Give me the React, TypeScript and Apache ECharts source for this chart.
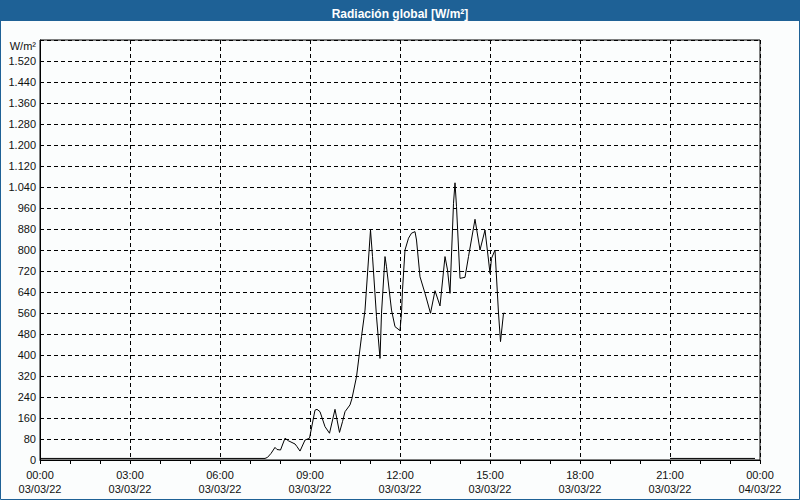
import React, { useEffect, useRef } from "react";
import * as echarts from "echarts";

const TITLE = "Radiación global [W/m²]";
const UNIT = "W/m²";

// Times of day (03/03/22) and global radiation values in W/m²
const dayTimes = [
  "00:00", "07:30", "07:35", "07:42", "07:50", "07:54", "08:01", "08:10", "08:17", "08:30",
  "08:34", "08:40", "08:50", "08:59", "09:10", "09:14", "09:20", "09:30", "09:39", "09:50",
  "09:59", "10:05", "10:10", "10:20", "10:24", "10:33", "10:43", "10:50", "11:01", "11:05",
  "11:13", "11:20", "11:23", "11:30", "11:33", "11:43", "11:50", "12:00", "12:03", "12:05",
  "12:10", "12:17", "12:23", "12:30", "12:33", "12:40", "12:50", "13:01", "13:10", "13:20",
  "13:30", "13:35", "13:40", "13:47", "13:50", "13:53", "14:00", "14:10", "14:17", "14:30",
  "14:40", "14:50", "14:57", "15:00", "15:03", "15:10", "15:17", "15:21", "15:27", "15:30",
];
const dayValues = [
  6, 6, 10, 25, 48, 40, 38, 83, 73, 61,
  51, 34, 76, 83, 190, 193, 184, 127, 102, 193,
  105, 146, 184, 210, 235, 317, 470, 571, 876, 775,
  546, 387, 559, 775, 736, 571, 508, 493, 559, 648,
  800, 845, 864, 870, 838, 698, 635, 559, 645, 587,
  775, 724, 635, 978, 1056, 965, 692, 696, 775, 917,
  800, 876, 762, 711, 768, 800, 559, 451, 559, 559,
];
const nightTimes = ["21:00", "23:50"];
const nightValues = [6, 6];

const xTickHours = [0, 3, 6, 9, 12, 15, 18, 21, 24];
const xDateLabels = ["03/03/22", "03/03/22", "03/03/22", "03/03/22", "03/03/22", "03/03/22", "03/03/22", "03/03/22", "04/03/22"];

const toHours = (t: string) => {
  const [h, m] = t.split(":").map(Number);
  return h + m / 60;
};

const fmtThousands = (v: number) =>
  String(v).replace(/\B(?=(\d{3})+(?!\d))/g, ".");

const pad = (n: number) => (n < 10 ? "0" + n : String(n));

export default function App() {
  const ref = useRef<HTMLDivElement>(null);

  useEffect(() => {
    if (!ref.current) return;
    const chart = echarts.init(ref.current, undefined, { renderer: "svg" });

    const data: any[] = [];
    dayTimes.forEach((t, i) => data.push([toHours(t), dayValues[i]]));
    data.push([16, "-"]);
    nightTimes.forEach((t, i) => data.push([toHours(t), nightValues[i]]));

    const font = "Liberation Sans";
    const blue = "#1e6196";

    chart.setOption({
      animation: false,
      backgroundColor: "#fbfdfd",
      textStyle: { fontFamily: font },
      graphic: [
        {
          type: "rect",
          shape: { x: 0, y: 0, width: 800, height: 21 },
          style: { fill: blue },
          z: 0,
        },
        {
          type: "rect",
          shape: { x: 0.5, y: 0.5, width: 799, height: 499 },
          style: { fill: "none", stroke: blue, lineWidth: 1 },
          z: 0,
        },
      ],
      title: {
        text: TITLE,
        left: "center",
        top: 3,
        textStyle: { color: "#ffffff", fontFamily: font, fontWeight: "bold", fontSize: 12 },
        z: 10,
      },
      grid: {
        left: 40,
        top: 40,
        width: 720,
        height: 420,
        show: true,
        borderColor: "#000",
        borderWidth: 1,
        backgroundColor: "transparent",
      },
      xAxis: {
        type: "value",
        min: 0,
        max: 24,
        interval: 3,
        axisLine: { show: true, lineStyle: { color: "#000", width: 1 } },
        axisTick: { show: true, length: 4, lineStyle: { color: "#000" } },
        minorTick: { show: true, splitNumber: 3, length: 4, lineStyle: { color: "#000" } },
        splitLine: { show: true, lineStyle: { color: "#000", type: [4, 3], width: 1 } },
        axisLabel: {
          color: "#111",
          fontFamily: font,
          fontSize: 11,
          lineHeight: 14,
          margin: 8,
          formatter: (v: number) => {
            const i = xTickHours.indexOf(v);
            return pad(v % 24) + ":00\n" + (i >= 0 ? xDateLabels[i] : "");
          },
        },
      },
      yAxis: {
        type: "value",
        min: 0,
        max: 1600,
        interval: 80,
        name: UNIT,
        nameLocation: "end",
        nameGap: -6,
        nameTextStyle: {
          color: "#111",
          fontFamily: font,
          fontSize: 11,
          align: "right",
          verticalAlign: "middle",
          padding: [0, 4, 0, 0],
        },
        axisLine: { show: true, lineStyle: { color: "#000", width: 1 } },
        axisTick: { show: false },
        splitLine: { show: true, lineStyle: { color: "#000", type: [4, 3], width: 1 } },
        axisLabel: {
          color: "#111",
          fontFamily: font,
          fontSize: 11,
          margin: 4,
          showMaxLabel: false,
          formatter: (v: number) => (v >= 1600 ? "" : fmtThousands(v)),
        },
      },
      series: [
        {
          type: "line",
          data,
          showSymbol: false,
          connectNulls: false,
          lineStyle: { color: "#000", width: 1 },
          itemStyle: { color: "#000" },
          z: 5,
        },
      ],
    });

    return () => chart.dispose();
  }, []);

  return (
    <div
      ref={ref}
      style={{ position: "fixed", left: 0, top: 0, width: 800, height: 500 }}
    />
  );
}
